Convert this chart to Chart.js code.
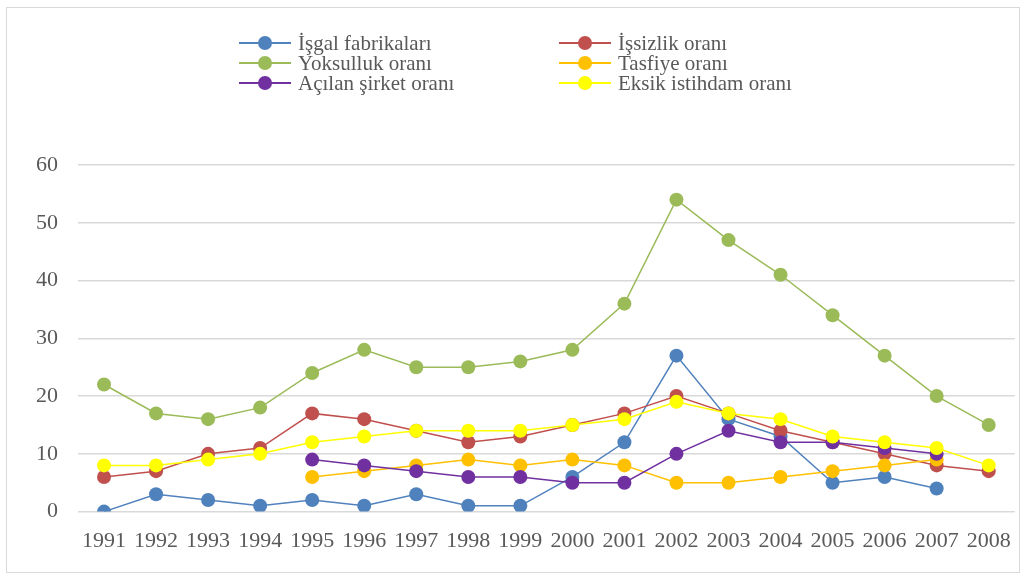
<!DOCTYPE html>
<html>
<head>
<meta charset="utf-8">
<script src="https://cdn.jsdelivr.net/npm/chart.js@4/dist/chart.umd.min.js"></script>
<style>
  html, body { margin: 0; padding: 0; background: #fff; }
  #wrap { position: relative; width: 1027px; height: 576px; overflow: hidden; }
  #frame { position: absolute; left: 6px; top: 7px; width: 1014px; height: 566px; border: 1.5px solid #d9d9d9; box-sizing: border-box; }
  canvas { position: absolute; left: 0; top: 0; }
  .lg { position: absolute; height: 20px; font-family: "Liberation Serif", serif; font-size: 21px; color: #595959; line-height: 20px; white-space: nowrap; }
  .lg .ln { position: absolute; left: 0; top: 9px; width: 52px; height: 1.5px; }
  .lg .dot { position: absolute; left: 19px; top: 3px; width: 14px; height: 14px; border-radius: 50%; }
  .lg .tx { position: absolute; left: 59px; top: 0; }
</style>
</head>
<body>
<div id="wrap">
  <div id="frame"></div>
  <canvas id="c" width="1027" height="576"></canvas>
</div>
<script>
const years = ["1991","1992","1993","1994","1995","1996","1997","1998","1999","2000","2001","2002","2003","2004","2005","2006","2007","2008"];
const yTicks = [0, 10, 20, 30, 40, 50, 60];

const seriesNames = ["İşgal fabrikaları", "İşsizlik oranı", "Yoksulluk oranı", "Tasfiye oranı", "Açılan şirket oranı", "Eksik istihdam oranı"];
const seriesColors = ["#4f81bd", "#c0504d", "#9bbb59", "#ffc000", "#7030a0", "#ffff00"];

const isgalFabrikalari = [0, 3, 2, 1, 2, 1, 3, 1, 1, 6, 12, 27, 16, 13, 5, 6, 4, null];
const issizlikOrani    = [6, 7, 10, 11, 17, 16, 14, 12, 13, 15, 17, 20, 17, 14, 12, 10, 8, 7];
const yoksullukOrani   = [22, 17, 16, 18, 24, 28, 25, 25, 26, 28, 36, 54, 47, 41, 34, 27, 20, 15];
const tasfiyeOrani     = [null, null, null, null, 6, 7, 8, 9, 8, 9, 8, 5, 5, 6, 7, 8, 9, null];
const acilanSirket     = [null, null, null, null, 9, 8, 7, 6, 6, 5, 5, 10, 14, 12, 12, 11, 10, null];
const eksikIstihdam    = [8, 8, 9, 10, 12, 13, 14, 14, 14, 15, 16, 19, 17, 16, 13, 12, 11, 8];

const seriesData = [isgalFabrikalari, issizlikOrani, yoksullukOrani, tasfiyeOrani, acilanSirket, eksikIstihdam];

// HTML legend (two columns, three rows)
const legendPos = [[239, 33], [559, 33], [239, 53], [559, 53], [239, 73], [559, 73]];
const wrap = document.getElementById('wrap');
seriesNames.forEach((n, i) => {
  const d = document.createElement('div');
  d.className = 'lg';
  d.style.left = legendPos[i][0] + 'px';
  d.style.top = legendPos[i][1] + 'px';
  d.innerHTML = '<span class="ln" style="background:' + seriesColors[i] + '"></span>' +
                '<span class="dot" style="background:' + seriesColors[i] + '"></span>' +
                '<span class="tx"></span>';
  d.querySelector('.tx').textContent = n;
  wrap.appendChild(d);
});

const datasets = seriesNames.map((n, i) => ({
  label: n,
  data: seriesData[i],
  borderColor: seriesColors[i],
  backgroundColor: seriesColors[i],
  pointBackgroundColor: seriesColors[i],
  pointBorderColor: seriesColors[i],
  borderWidth: 1.5,
  pointRadius: 7,
  pointBorderWidth: 0,
  pointHoverRadius: 7,
  tension: 0,
  spanGaps: false,
  order: seriesNames.length - i
}));

new Chart(document.getElementById('c'), {
  type: 'line',
  data: { labels: years, datasets: datasets },
  options: {
    responsive: false,
    animation: false,
    layout: { padding: { left: 16, right: 11, top: 165, bottom: 6 } },
    plugins: { legend: { display: false }, tooltip: { enabled: false } },
    scales: {
      x: {
        offset: true,
        grid: { display: false, drawTicks: false },
        border: { display: false },
        ticks: { color: '#595959', font: { family: 'Liberation Serif', size: 22 }, padding: 16, maxRotation: 0, autoSkip: false }
      },
      y: {
        min: 0, max: 60,
        afterBuildTicks: (ax) => { ax.ticks = yTicks.map(v => ({ value: v })); },
        grid: { color: '#d9d9d9', lineWidth: 1.5, drawTicks: false },
        border: { display: false },
        ticks: { color: '#595959', font: { family: 'Liberation Serif', size: 22 }, padding: 20 }
      }
    }
  }
});
</script>
</body>
</html>
